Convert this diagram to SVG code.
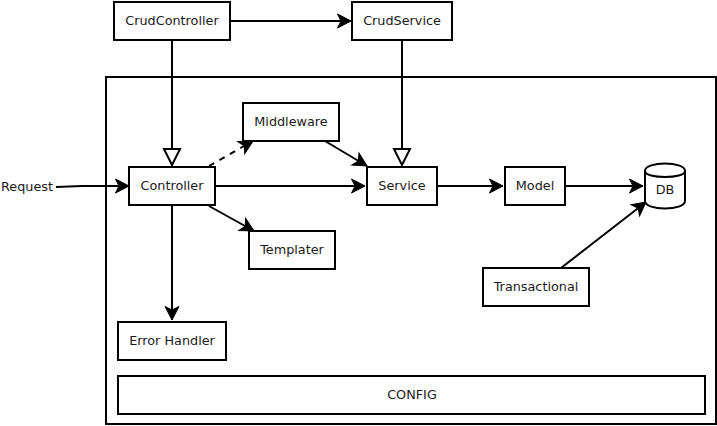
<svg xmlns="http://www.w3.org/2000/svg" width="717" height="426" viewBox="0 0 717 426">
<style>
.b{fill:#fff;stroke:#000;stroke-width:2}
.c{fill:none;stroke:#000;stroke-width:2}
.a{marker-end:url(#arrow)}
.d{stroke-dasharray:6 6}
text{font-family:"DejaVu Sans",sans-serif;font-size:12.8px;fill:#1a1a1a;text-anchor:middle;font-weight:400}
</style>
<defs>
<marker id="arrow" markerUnits="userSpaceOnUse" markerWidth="18" markerHeight="18" refX="13.5" refY="7.5" orient="auto" overflow="visible">
<path d="M0 0.5 L13.5 7.5 L0 14.5 L3.5 7.5 Z" fill="#000" stroke="#000" stroke-width="1"/>
</marker>
</defs>
<rect id="container" class="b" x="106" y="77" width="610" height="347"/>
<g id="connectors">
<path class="c" d="M172 40V149"/>
<path class="b" d="M164 149H180L172 165Z"/>
<path class="c" d="M402 40V149"/>
<path class="b" d="M394 149H410L402 165Z"/>
<path class="c a" d="M230 21H351"/>
<path class="c a" d="M56 187L82 186H129"/>
<path class="c a d" d="M209 166L253 141"/>
<path class="c a" d="M325 141L367 166"/>
<path class="c a" d="M215 186H365"/>
<path class="c a" d="M209 206L254 231"/>
<path class="c a" d="M172 205V320"/>
<path class="c a" d="M437 186H503"/>
<path class="c a" d="M565 186H643"/>
<path class="c a" d="M561 268L646 202"/>
</g>
<g id="crudcontroller"><rect class="b" x="114" y="2" width="116" height="38"/><text x="172" y="25">CrudController</text></g>
<g id="crudservice"><rect class="b" x="352" y="2" width="100" height="38"/><text x="402" y="25">CrudService</text></g>
<g id="middleware"><rect class="b" x="243" y="103" width="96" height="38"/><text x="291" y="126">Middleware</text></g>
<g id="controller"><rect class="b" x="129" y="167" width="86" height="38"/><text x="172" y="190">Controller</text></g>
<g id="service"><rect class="b" x="367" y="167" width="70" height="38"/><text x="402" y="190">Service</text></g>
<g id="model"><rect class="b" x="505" y="167" width="60" height="38"/><text x="535" y="190">Model</text></g>
<g id="db"><path class="b" d="M645 171C645 161 685 161 685 171V201C685 211 645 211 645 201Z"/><path class="c" d="M645 171C645 179 685 179 685 171"/><text x="665" y="194">DB</text></g>
<g id="templater"><rect class="b" x="249" y="231" width="86" height="38"/><text x="292" y="254">Templater</text></g>
<g id="transactional"><rect class="b" x="483" y="268" width="106" height="38"/><text x="536" y="291">Transactional</text></g>
<g id="error-handler"><rect class="b" x="118" y="322" width="108" height="38"/><text x="172" y="345">Error Handler</text></g>
<g id="config"><rect class="b" x="118" y="376" width="587" height="38"/><text x="412" y="399">CONFIG</text></g>
<g id="request"><text x="27" y="191">Request</text></g>
</svg>
